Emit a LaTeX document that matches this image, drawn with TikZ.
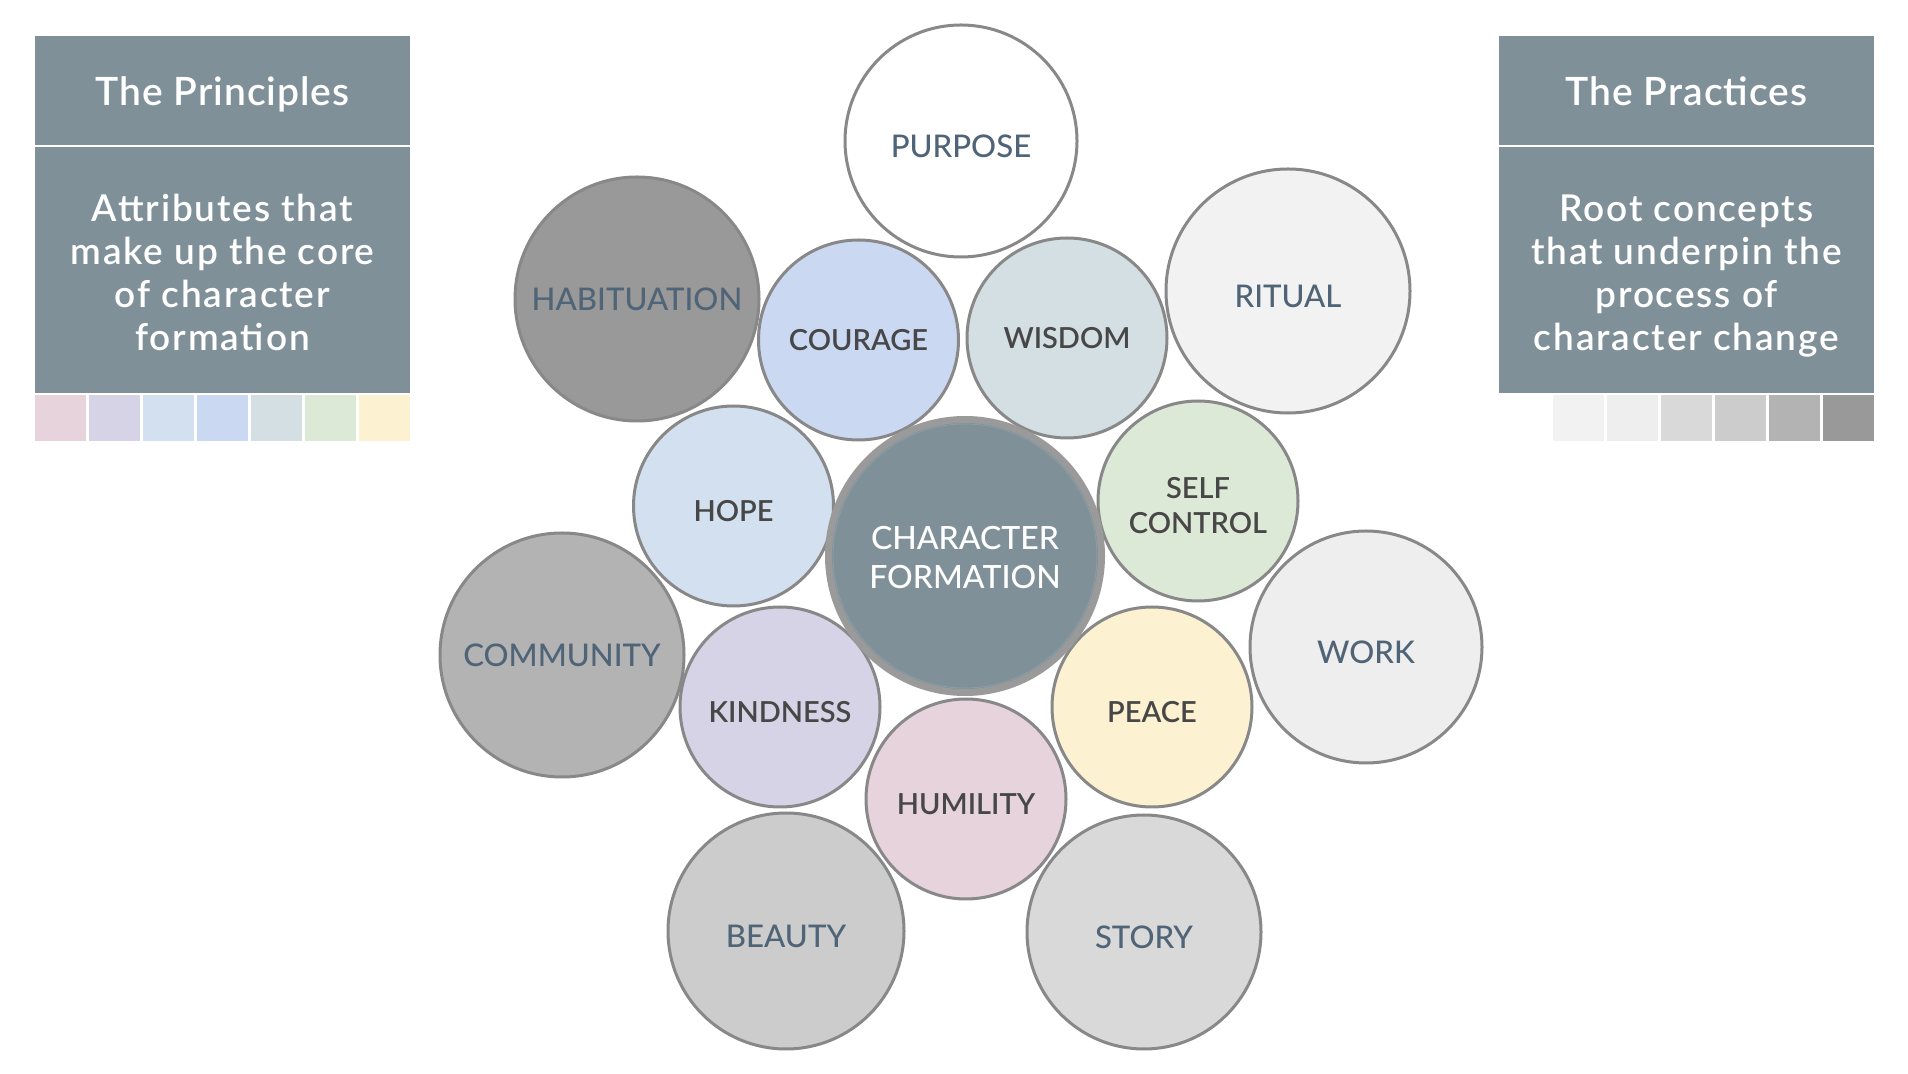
\documentclass[tikz,border=0pt]{standalone}
\usepackage{fontspec}
\setmainfont{Lato}
\newfontfamily\medf{Lato Medium}
\newfontfamily\semif{Lato Semibold}
\newfontfamily\titf{Lato Semibold}[LetterSpace=2.5]
\newfontfamily\bodf{Lato Semibold}[LetterSpace=5]
\newcommand\lw[1]{\raisebox{-2.5pt}[\height][\depth]{#1}}
\newcommand\lwc[1]{\raisebox{-1pt}[\height][\depth]{#1}}
\newcommand\tS{\rule{0pt}{21pt}}
\newcommand\bS{\rule[-5pt]{0pt}{5pt}}
\definecolor{panel}{HTML}{7F9098}
\definecolor{bordc}{HTML}{888888}
\definecolor{ringc}{HTML}{9A9A9A}
\definecolor{ringin}{HTML}{8C9CA3}
\definecolor{intxt}{HTML}{474747}
\definecolor{outtxt}{HTML}{506477}
\definecolor{cPink}{HTML}{E6D3DC}
\definecolor{cLav}{HTML}{D7D3E7}
\definecolor{cLBlue}{HTML}{D3E0F0}
\definecolor{cBlue}{HTML}{CAD8F2}
\definecolor{cBGray}{HTML}{D3DFE2}
\definecolor{cGreen}{HTML}{DDE9D7}
\definecolor{cYellow}{HTML}{FCF1D1}
\definecolor{g1}{HTML}{F2F2F2}
\definecolor{g2}{HTML}{EEEEEE}
\definecolor{g3}{HTML}{D9D9D9}
\definecolor{g4}{HTML}{CCCCCC}
\definecolor{g5}{HTML}{B3B3B3}
\definecolor{g6}{HTML}{999999}
\begin{document}
\begin{tikzpicture}[x=0.5pt,y=-0.5pt,
  bub/.style={circle, draw=bordc, line width=1.5pt, inner sep=0pt, align=center,
    text=intxt, font=\semif\fontsize{14.5}{17.5}\selectfont, minimum size=100pt},
  outbub/.style={bub, text=outtxt, font=\medf\fontsize{15.6}{19}\selectfont},
  head/.style={rectangle, fill=panel, inner sep=0pt, minimum width=187.5pt,
    minimum height=54.5pt, text=white, text height=15.5pt, text depth=0pt,
    font=\titf\fontsize{19.5}{23}\selectfont},
  body/.style={rectangle, fill=panel, inner sep=0pt, minimum width=187.5pt,
    minimum height=123pt, text=white, align=center, font=\bodf\fontsize{18.5}{21.5}\selectfont}
]
\useasboundingbox (0,0) rectangle (1908,1074);

% left panel
\node[head] (lhead) at (222.5,90.5) {The Principles};
\node[body] (lbody) at (222.5,270) {\tS Attributes that\\make up the core\\of character\\formation\bS};
\foreach \c [count=\i from 0] in {cPink,cLav,cLBlue,cBlue,cBGray,cGreen,cYellow}
  \fill[\c] (35+\i*54,395) rectangle ++(51,46);

% right panel
\node[head] (rhead) at (1686.5,90.5) {The Practices};
\node[body] (rbody) at (1686.5,270) {\tS Root concepts\\that underpin the\\process of\\character change\bS};
\foreach \c [count=\i from 0] in {g1,g2,g3,g4,g5,g6}
  \fill[\c] (1553+\i*54,395) rectangle ++(51,46);

% outer circles
\node[outbub, fill=white, minimum size=116pt] (purpose) at (961,141) {\lw{PURPOSE}};
\node[outbub, fill=g6, minimum size=122pt] (habit) at (637,299) {HABITUATION};
\node[outbub, fill=g1, minimum size=122pt] (ritual) at (1288,291) {\lw{RITUAL}};
\node[outbub, fill=g5, minimum size=122pt] (community) at (562,655) {COMMUNITY};
\node[outbub, fill=g2, minimum size=116pt] (work) at (1366,647) {\lw{WORK}};
\node[outbub, fill=g4, minimum size=118pt] (beauty) at (786,931) {\lw{BEAUTY}};
\node[outbub, fill=g3, minimum size=117pt] (story) at (1144,932) {\lw{STORY}};

% inner circles
\node[bub, fill=cBlue] (courage) at (858.5,340) {COURAGE};
\node[bub, fill=cBGray] (wisdom) at (1067,338) {WISDOM};
\node[bub, fill=cGreen] (selfc) at (1198,501) {\lw{SELF}\\\lw{CONTROL}};
\node[bub, fill=cYellow] (peace) at (1152,707) {\lw{PEACE}};
\node[bub, fill=cPink] (humility) at (966,799) {\lw{HUMILITY}};
\node[bub, fill=cLav] (kindness) at (780,707) {\lw{KINDNESS}};
\node[bub, fill=cLBlue] (hope) at (733.5,506) {\lw{HOPE}};

% centre
\node[circle, fill=panel, draw=ringc, line width=3.5pt, minimum size=136.5pt, inner sep=0pt,
  align=center, text=white, font=\medf\fontsize{16}{19.5}\selectfont] (centre) at (965,556)
  {\lwc{CHARACTER}\\\lwc{FORMATION}};
\draw[ringin, line width=0.5pt] (centre.center) circle[radius=66pt];
\end{tikzpicture}
\end{document}
